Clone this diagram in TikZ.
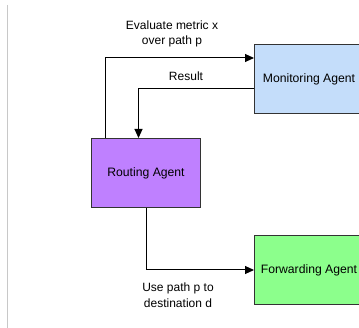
\documentclass[tikz,border=0pt]{standalone}
\usepackage{fontspec}
\setmainfont{Liberation Sans}
\usetikzlibrary{arrows.meta,calc}
\definecolor{monblue}{HTML}{C4DDFA}
\definecolor{routpurple}{HTML}{BF80FF}
\definecolor{fwdgreen}{HTML}{8CFF8C}
\definecolor{sidegray}{HTML}{C8C8C8}
\tikzset{
  agent/.style={draw=black!80, line width=1pt, minimum width=109pt, minimum height=69pt, inner sep=0pt, font=\fontsize{12.2}{14}\selectfont},
  conn/.style={line width=1pt, -{Triangle[length=9pt,width=8pt]}},
  lbl/.style={align=center, font=\fontsize{12}{15.5}\selectfont, inner sep=0pt}
}
\begin{document}
\begin{tikzpicture}[x=1pt,y=-1pt]
\useasboundingbox (0,0) rectangle (359,328);
\clip (0,0) rectangle (359,328);
\fill[white] (0,0) rectangle (359,328);
\draw[sidegray, line width=1pt] (7,5) -- (7,328);
\node[agent, fill=monblue, anchor=north west] (m) at (254,44) {Monitoring Agent};
\node[agent, fill=routpurple, anchor=north west] (r) at (91,138) {Routing Agent};
\node[agent, fill=fwdgreen, anchor=north west] (f) at (254,235) {Forwarding Agent};
\coordinate (a1s) at ($(r.north west)+(14,0)$);
\coordinate (a1e) at ($(m.north west)+(0,14)$);
\draw[conn] (a1s) |- (a1e);
\coordinate (a2s) at ($(m.west)+(0,9.5)$);
\coordinate (a2e) at ($(r.north)+(-7.5,0)$);
\draw[conn] (a2s) -| (a2e);
\draw[conn] (r.south) |- (f.west);
\node[lbl] (l1) at (172,34) {Evaluate metric x\\over path p};
\node[lbl] (l2) at (186,76) {Result};
\node[lbl] (l3) at (178,295) {Use path p to\\destination d};
\end{tikzpicture}
\end{document}
